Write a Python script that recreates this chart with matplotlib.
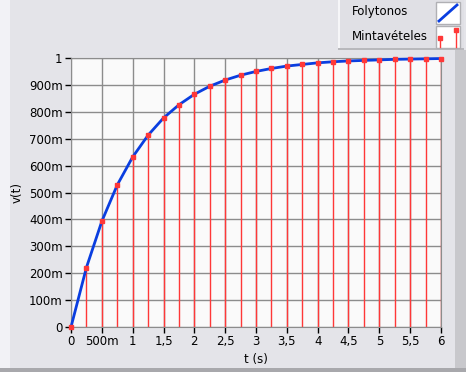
import matplotlib
matplotlib.use("Agg")
import matplotlib.pyplot as plt
from matplotlib.patches import Rectangle
from matplotlib.lines import Line2D

t = [0, 0.25, 0.5, 0.75, 1, 1.25, 1.5, 1.75, 2, 2.25, 2.5, 2.75, 3,
     3.25, 3.5, 3.75, 4, 4.25, 4.5, 4.75, 5, 5.25, 5.5, 5.75, 6]
v = [0, 0.221, 0.393, 0.528, 0.632, 0.713, 0.777, 0.826, 0.865, 0.895,
     0.918, 0.936, 0.950, 0.961, 0.970, 0.976, 0.982, 0.986, 0.989,
     0.991, 0.993, 0.995, 0.996, 0.997, 0.998]

xticks = [0, 0.5, 1, 1.5, 2, 2.5, 3, 3.5, 4, 4.5, 5, 5.5, 6]
xticklabels = ["0", "500m", "1", "1,5", "2", "2,5", "3", "3,5", "4",
               "4,5", "5", "5,5", "6"]
yticks = [0, 0.1, 0.2, 0.3, 0.4, 0.5, 0.6, 0.7, 0.8, 0.9, 1]
yticklabels = ["0", "100m", "200m", "300m", "400m", "500m", "600m",
               "700m", "800m", "900m", "1"]

W, H = 466, 372
BG = "#e4e4e9"
RED = "#ff3838"
BLUE = "#0a3ee0"
GRID = "#8c8c8c"

fig = plt.figure(figsize=(W / 100, H / 100), dpi=100)
fig.patch.set_facecolor(BG)


def box(x0, y0, x1, y1, fc, ec="none", z=0):
    # rectangle given in pixel coords (top-left origin)
    fig.add_artist(Rectangle((x0 / W, 1 - y1 / H), (x1 - x0) / W,
                             (y1 - y0) / H, transform=fig.transFigure,
                             facecolor=fc, edgecolor=ec, lw=1, zorder=z))


def seg(xs, ys, z=4, **kw):
    fig.add_artist(Line2D([x / W for x in xs], [1 - y / H for y in ys],
                          transform=fig.transFigure, zorder=z, **kw))


# window-ish edges
box(0, 0, 10, H, "#f2f2f6")
box(455, 50, W, H, "#c8c8cc")
box(0, H - 4, W, H, "#a8a8ac")

ax = fig.add_axes([71 / W, 1 - 327 / H, 370 / W, 269 / H])
ax.set_facecolor("#fafafa")
ax.set_xlim(0, 6)
ax.set_ylim(0, 1)
ax.set_xticks(xticks)
ax.set_xticklabels(xticklabels)
ax.set_yticks(yticks)
ax.set_yticklabels(yticklabels)
ax.grid(True, color=GRID, lw=1)
ax.set_axisbelow(True)
for s in ax.spines.values():
    s.set_color(GRID)
ax.tick_params(direction="out", length=4, width=1, color="black",
               labelsize=8.5, pad=2)

ax.vlines(t, 0, v, color=RED, lw=1, zorder=2)
ax.plot(t, v, color=BLUE, lw=2, zorder=3, clip_on=False)
ax.plot(t, v, "s", ms=2.4, color=RED, mec=RED, zorder=4, clip_on=False)

ax.set_xlabel("t (s)", fontsize=8.5, labelpad=3)
ax.set_ylabel("v(t)", fontsize=8.5, labelpad=4)

# legend box
box(338, 0, 464, 50, "#e0e0e5", z=1)
box(338, 0, 340, 50, "#f6f6f8", z=1)
box(338, 48, 464, 50, "#b8b8bc", z=1)
fig.text(352 / W, 1 - 12 / H, "Folytonos", fontsize=8.5, va="center")
fig.text(352 / W, 1 - 36 / H, "Mintavételes", fontsize=8.5, va="center")

# legend icons
box(436, 2, 460, 24, "white", "#b0b0b4", z=3)
box(436, 26, 460, 48, "white", "#b0b0b4", z=3)
seg([439, 457], [21, 5], color=BLUE, lw=2)
seg([440, 440], [47, 38], color=RED, lw=1)
seg([456, 456], [47, 30], color=RED, lw=1)
seg([440, 456], [38, 30], ls="none", marker="s", ms=3, color=RED)

fig.savefig("out.png", dpi=100, facecolor=fig.get_facecolor())
